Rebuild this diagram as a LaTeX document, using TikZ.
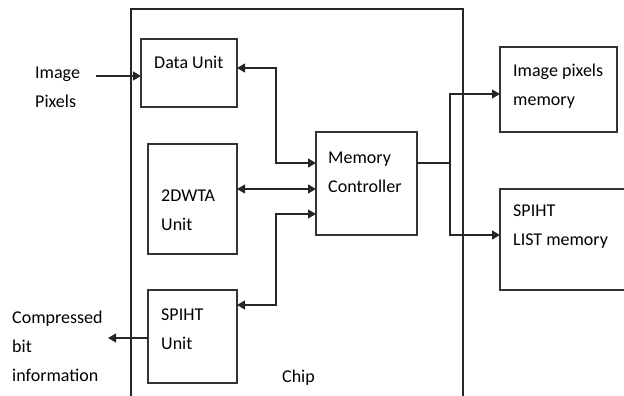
\documentclass[tikz,border=0pt]{standalone}
\usepackage{fontspec}
\setmainfont{Carlito}
\usetikzlibrary{arrows.meta}
\begin{document}
\begin{tikzpicture}[x=1pt,y=-1pt,
  box/.style={draw=black!80,line width=1.1pt,minimum width=#1,inner sep=0pt,outer sep=0pt},
  lbl/.style={anchor=west,align=left,inner sep=0pt,text=black,font=\fontsize{18}{29}\selectfont},
  ln/.style={draw=black!85,line width=1.1pt},
  arr/.style={ln,-{Triangle[length=8pt,width=9pt]}},
  both/.style={ln,{Triangle[length=8pt,width=9pt]}-{Triangle[length=8pt,width=9pt]}}]
\useasboundingbox (0,0) rectangle (624,396);
\clip (0,0) rectangle (624,396);
% chip outline
\draw[ln] (131,400) -- (131,9) -- (463,9) -- (463,400);
% boxes
\node[box=96pt,minimum height=68pt] (du) at (189,73) {};
\node[box=89pt,minimum height=110pt] (dw) at (192.5,199) {};
\node[box=89pt,minimum height=93pt] (sp) at (192.5,336.5) {};
\node[box=101pt,minimum height=103pt] (mc) at (366.5,183.5) {};
\node[box=117pt,minimum height=85pt] (ipm) at (558.5,89.5) {};
\node[box=150pt,minimum height=101pt] (slm) at (575,239.5) {};
% texts
\node[lbl] (tdu) at (154,62) {Data Unit};
\node[lbl] (tdw) at (161,210.5) {2DWTA\\Unit};
\node[lbl] (tsp) at (161,329) {SPIHT\\Unit};
\node[lbl] (tmc) at (328,172.5) {Memory\\Controller};
\node[lbl] (tipm) at (513,86.5) {Image pixels\\memory};
\node[lbl] (tslm) at (513,227) {SPIHT\\LIST memory};
\node[lbl] (timg) at (35,87.5) {Image\\Pixels};
\node[lbl] (tcmp) at (12,346) {Compressed\\bit\\information};
\node[lbl] (tchip) at (282,378) {Chip};
% helper coordinates
\coordinate (in) at (96,76);
\coordinate (out) at (108,338);
\coordinate (y68) at (0,68);
\coordinate (y163) at (0,163);
\coordinate (y189) at (0,189);
\coordinate (y214) at (0,214);
\coordinate (y305) at (0,305);
\coordinate (y76) at (0,76);
\coordinate (y338) at (0,338);
\coordinate (y94) at (0,94);
\coordinate (y235) at (0,235);
\coordinate (xl) at (276,0);
\coordinate (jn) at (450,163);
% connectors
\draw[arr] (in) -- (du.west |- y76);
\draw[both] (du.east |- y68) -- (xl |- y68) -- (xl |- y163) -- (mc.west |- y163);
\draw[both] (dw.east |- y189) -- (mc.west |- y189);
\draw[both] (sp.east |- y305) -- (xl |- y305) -- (xl |- y214) -- (mc.west |- y214);
\draw[arr] (sp.west |- y338) -- (out);
\draw[ln] (mc.east |- y163) -- (jn);
\draw[arr] (jn) |- (ipm.west |- y94);
\draw[arr] (jn) |- (slm.west |- y235);
\end{tikzpicture}
\end{document}
